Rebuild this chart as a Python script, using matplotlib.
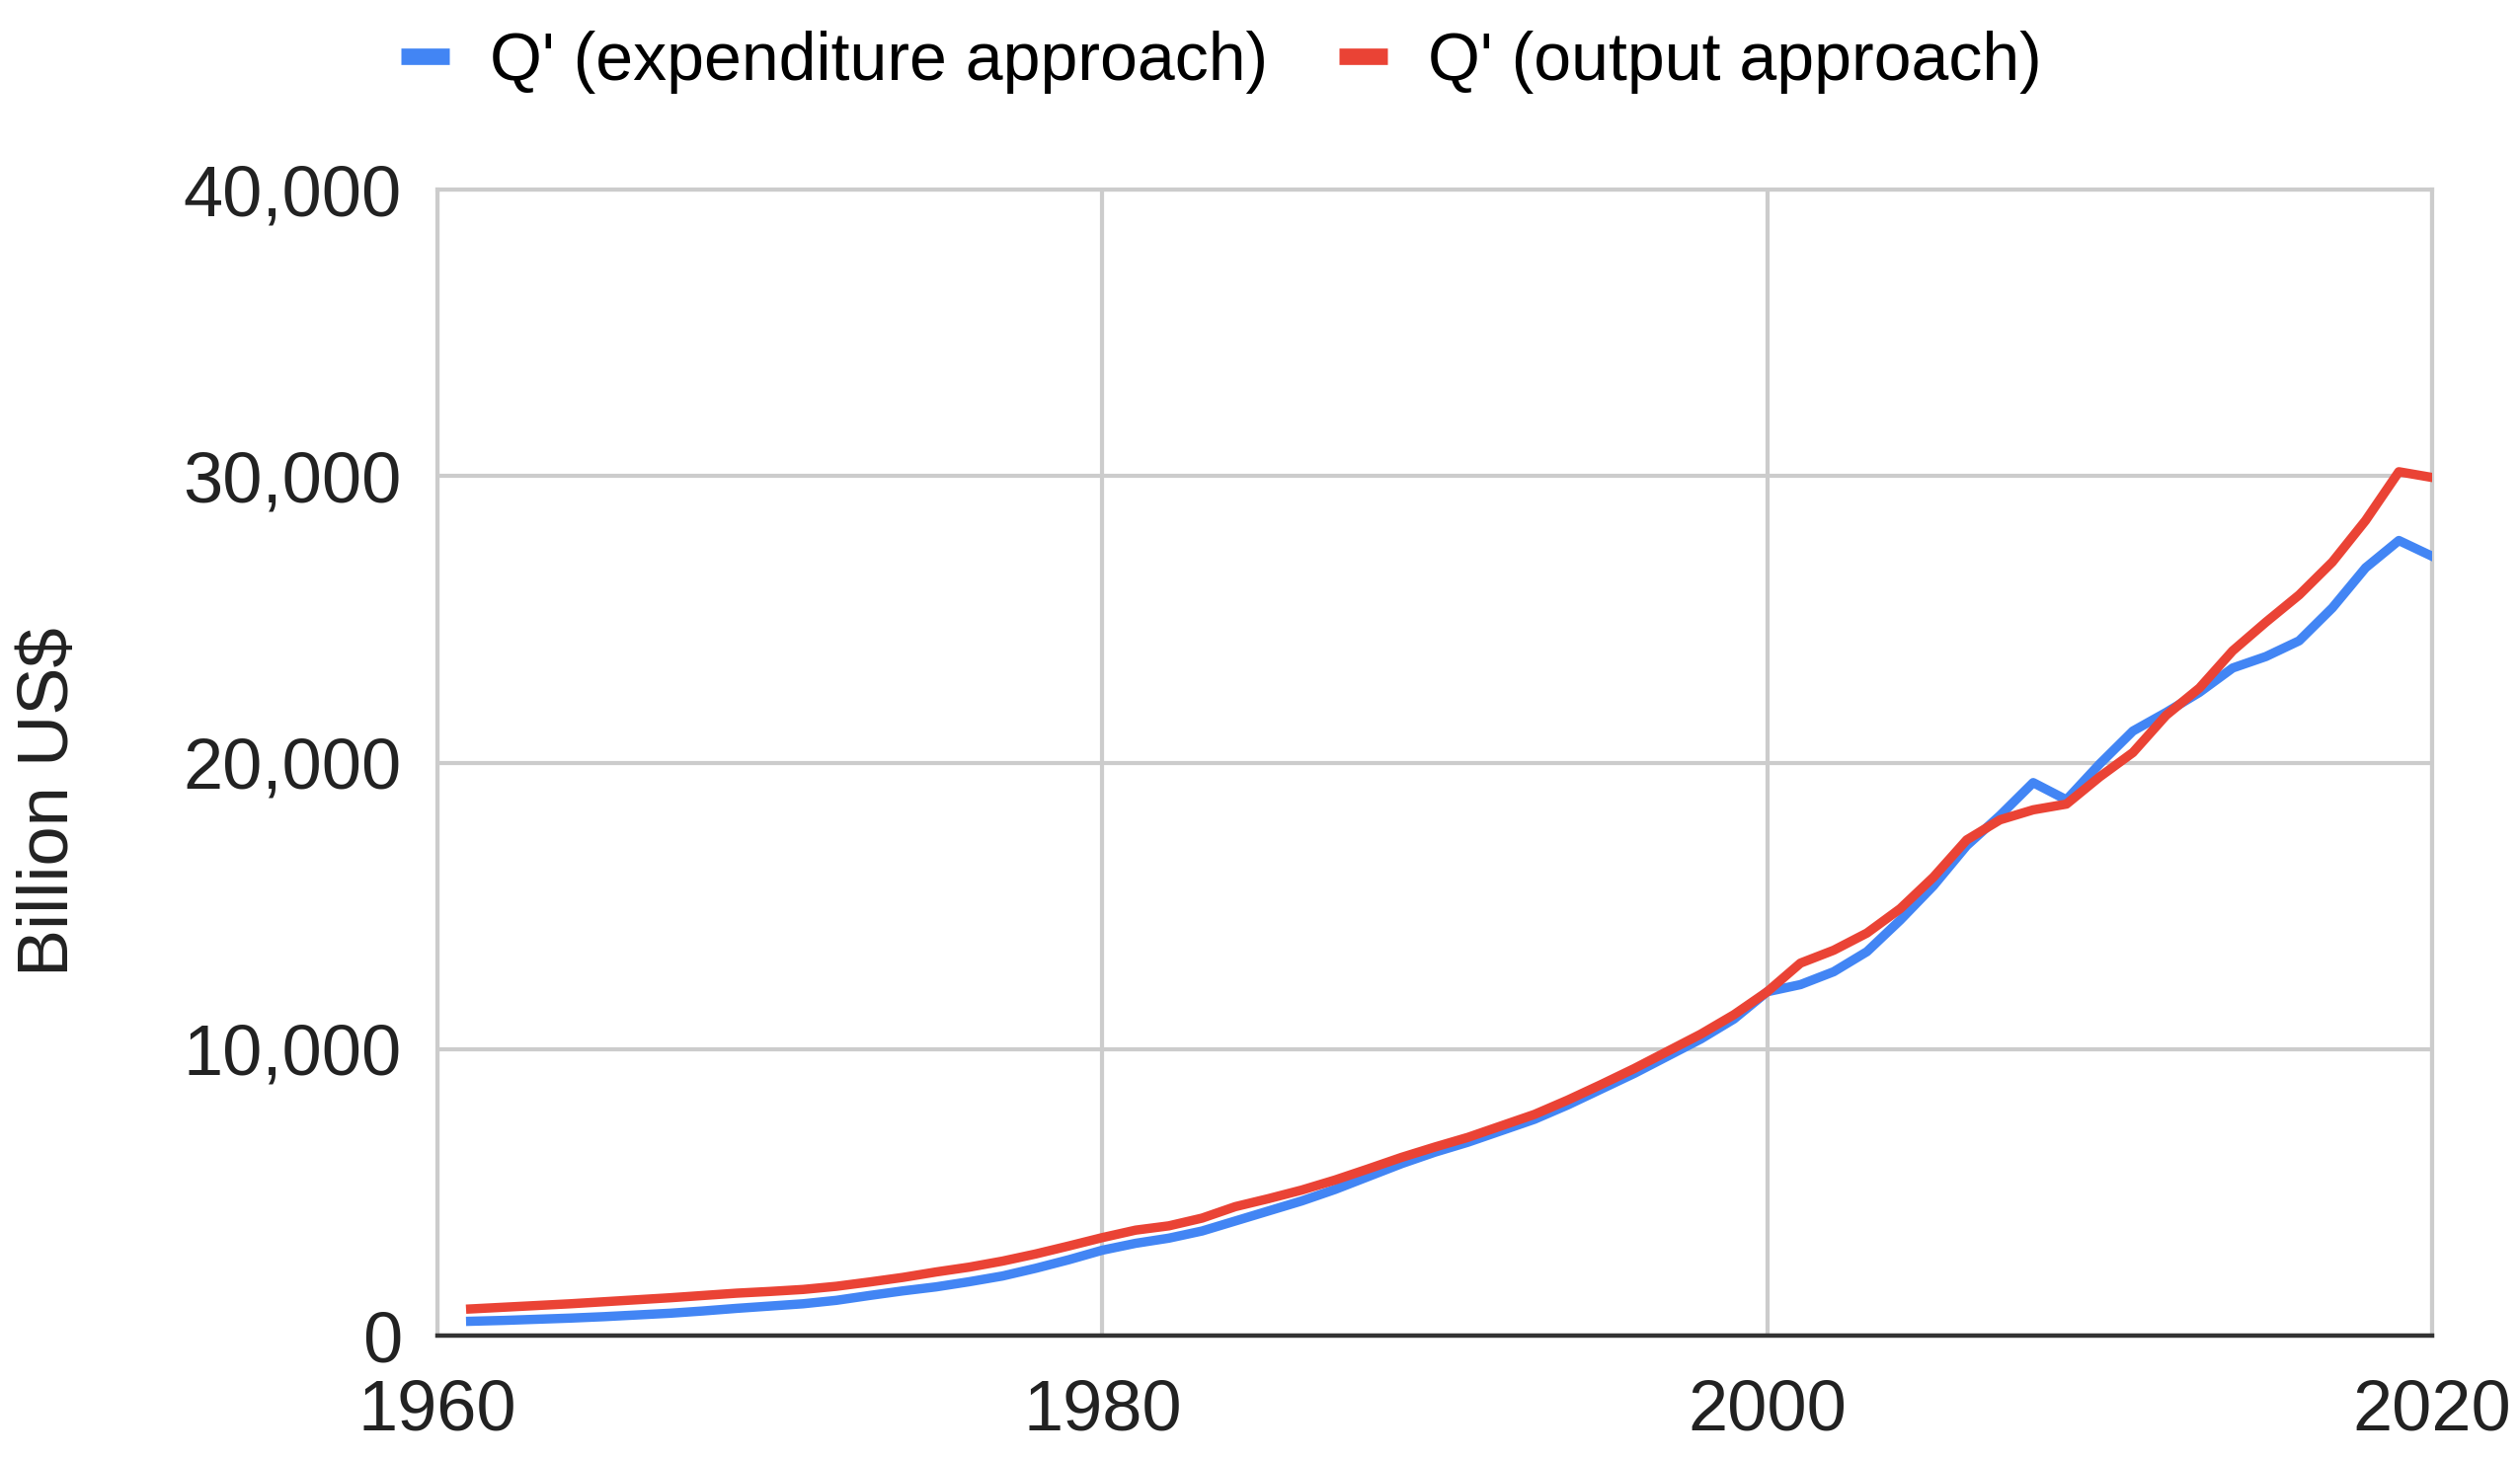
import matplotlib
matplotlib.use("Agg")
import matplotlib.pyplot as plt
from matplotlib.ticker import FuncFormatter

plt.rcParams["font.family"] = ["Liberation Sans", "DejaVu Sans"]

# data (billion US$)
years = list(range(1961, 2021))
q_expenditure = [
    500, 530, 570, 610, 660, 720, 780, 860, 950, 1030,
    1110, 1230, 1400, 1560, 1700, 1880, 2080, 2350, 2650, 2980,
    3220, 3400, 3650, 4000, 4350, 4700, 5100, 5550, 6000, 6400,
    6750, 7150, 7550, 8050, 8600, 9150, 9750, 10350, 11050, 12000,
    12250, 12700, 13400, 14500, 15700, 17100, 18150, 19300, 18700, 19950,
    21100, 21750, 22450, 23300, 23700, 24250, 25400, 26800, 27750, 27200,
]
q_output = [
    930, 990, 1050, 1110, 1180, 1250, 1320, 1400, 1480, 1540,
    1610, 1720, 1870, 2030, 2220, 2390, 2600, 2850, 3130, 3420,
    3680, 3830, 4100, 4500, 4780, 5080, 5430, 5820, 6220, 6580,
    6920, 7320, 7720, 8220, 8760, 9320, 9920, 10520, 11200, 12000,
    13000, 13450, 14050, 14900, 16000, 17300, 18000, 18350, 18550, 19500,
    20350, 21650, 22600, 23900, 24900, 25850, 27000, 28450, 30150, 29950,
]
series_labels = ["Q' (expenditure approach)", "Q' (output approach)"]
series_colors = ["#4285F4", "#EA4335"]
x_ticks = [1960, 1980, 2000, 2020]
y_ticks = [0, 10000, 20000, 30000, 40000]

W, H = 2552, 1476
fig = plt.figure(figsize=(W / 100, H / 100), dpi=100)
ax = fig.add_axes([443 / W, 1 - 1353 / H, (2463 - 443) / W, (1353 - 192) / H])

for vals, label, color in zip([q_expenditure, q_output], series_labels, series_colors):
    ax.plot(years, vals, color=color, linewidth=6.8, label=label,
            solid_joinstyle="round", zorder=3)

ax.set_xlim(1960, 2020)
ax.set_ylim(0, 40000)
ax.set_xticks(x_ticks)
ax.set_yticks(y_ticks)
ax.yaxis.set_major_formatter(FuncFormatter(lambda v, p: f"{v:,.0f}"))
ax.grid(True, color="#cccccc", linewidth=3, zorder=0)
ax.set_axisbelow(True)
ax.tick_params(length=0, labelsize=52, colors="#222222")
ax.tick_params(axis="x", pad=31)
ax.tick_params(axis="y", pad=26)

for side in ["top", "left", "right"]:
    ax.spines[side].set_color("#cccccc")
    ax.spines[side].set_linewidth(3)
ax.spines["bottom"].set_color("#333333")
ax.spines["bottom"].set_linewidth(3.2)
ax.spines["bottom"].set_zorder(4)

fig.text(50 / W, 1 - 812 / H, "Billion US$", rotation=90, ha="center",
         va="center", fontsize=52, color="#222222")

leg = fig.legend(loc="center", bbox_to_anchor=(1237 / W, 1 - 63 / H), ncol=2,
                 frameon=False, fontsize=49, handlelength=0.72,
                 handletextpad=0.6, columnspacing=1.05, borderpad=0)
for line in leg.get_lines():
    line.set_linewidth(12)
    line.set_solid_capstyle("butt")

fig.savefig("out.png", dpi=100, facecolor="white")
